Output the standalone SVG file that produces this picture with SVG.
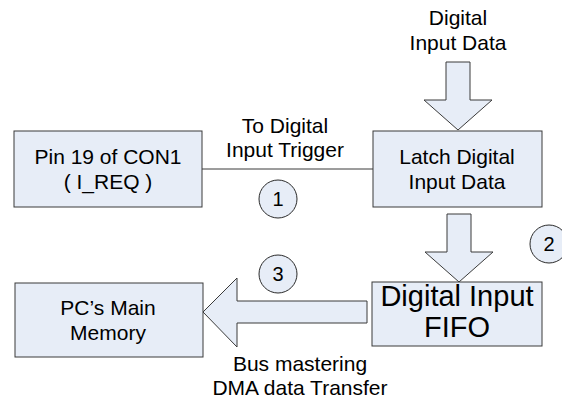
<svg xmlns="http://www.w3.org/2000/svg" width="562" height="403" viewBox="0 0 562 403">
<style>
.box{fill:#E7EDF7;stroke:#3a3a3a;stroke-width:1}
.arr{fill:#E7EDF7;stroke:#3a3a3a;stroke-width:1;stroke-linejoin:miter}
.num{fill:#E7EDF7;stroke:#2a2a2a;stroke-width:1}
text{font-family:"Liberation Sans",Arial,sans-serif;fill:#000;text-anchor:middle}
.t{font-size:21px}
.big{font-size:29px}
.n{font-size:20px}
.line{stroke:#3a3a3a;stroke-width:1;fill:none}
</style>
<rect width="562" height="403" fill="#fff"/>
<g id="connectors">
<line class="line" x1="202" y1="169" x2="373" y2="169"/>
<polygon class="arr" points="446,62 470,62 470,100 492,100 458,130 424,100 446,100"/>
<polygon class="arr" points="447,214 471,214 471,252 493,252 459,282 425,252 447,252"/>
<polygon class="arr" points="367,301 237,301 237,278 203,312 237,347 237,323 367,323"/>
</g>
<g id="label-input-data">
<text class="t" x="458" y="25">Digital</text>
<text class="t" x="458" y="50">Input Data</text>
</g>
<g id="label-trigger">
<text class="t" x="285" y="133">To Digital</text>
<text class="t" x="285" y="157">Input Trigger</text>
</g>
<g id="label-dma">
<text class="t" x="300" y="371">Bus mastering</text>
<text class="t" x="300" y="395">DMA data Transfer</text>
</g>
<g id="node-pin19">
<rect class="box" x="14" y="131" width="188" height="76"/>
<text class="t" x="108" y="164">Pin 19 of CON1</text>
<text class="t" x="108" y="189">( I_REQ )</text>
</g>
<g id="node-latch">
<rect class="box" x="373" y="131" width="169" height="76"/>
<text class="t" x="457" y="164">Latch Digital</text>
<text class="t" x="457" y="189">Input Data</text>
</g>
<g id="node-fifo">
<rect class="box" x="372" y="282" width="170" height="64"/>
<text class="big" x="457" y="306">Digital Input</text>
<text class="big" x="457" y="337">FIFO</text>
</g>
<g id="node-pc">
<rect class="box" x="15" y="283" width="188" height="74"/>
<text class="t" x="108" y="315">PC’s Main</text>
<text class="t" x="108" y="340">Memory</text>
</g>
<g id="step1">
<circle class="num" cx="278" cy="199" r="19"/>
<text class="n" x="278" y="206">1</text>
</g>
<g id="step2">
<circle class="num" cx="549" cy="244" r="19"/>
<text class="n" x="549" y="251">2</text>
</g>
<g id="step3">
<circle class="num" cx="278" cy="274" r="19"/>
<text class="n" x="278" y="281">3</text>
</g>
</svg>
